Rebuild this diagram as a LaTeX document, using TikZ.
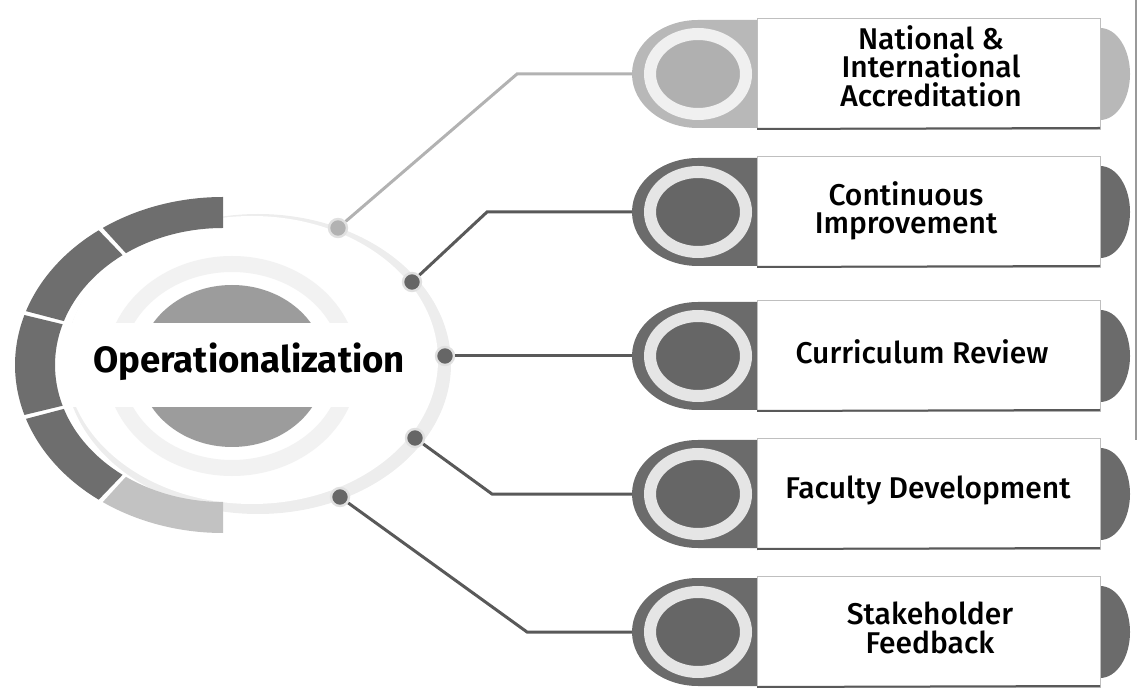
\documentclass[tikz,border=0pt]{standalone}
\usepackage{fontspec}
\setmainfont{Fira Sans}
\newfontfamily\labelfont{Fira Sans Medium}
\usetikzlibrary{calc,shapes.geometric}
\def\ringseg[#1](#2:#3){\fill[#1] ($(223,365)+(#2:208 and 168)$) arc[start angle=#2, end angle=#3, x radius=208, y radius=168] -- ($(223,365)+(#3:168 and 137)$) arc[start angle=#3, end angle=#2, x radius=168, y radius=137] -- cycle;}
\def\pillbody[#1](#2){%
	\fill[#1] (757,#2-54) -- (698,#2-54) arc[start angle=270, end angle=90, x radius=66, y radius=54] -- (757,#2+54) -- cycle;
	\fill[#1] (1100,#2-46) arc[start angle=270, end angle=450, x radius=30, y radius=46] -- cycle;
	\draw[black!25, fill=white] (757,#2-56) rectangle (1100,#2+55);
	\draw[black!65, line width=1pt] (757,#2+55) -- (1100,#2+54);}

\begin{document}
\begin{tikzpicture}[x=0.5pt, y=-0.5pt,
		dotnode/.style={circle, minimum size=9pt, inner sep=0pt, fill=black!60, draw=black!12, line width=1.2pt},
		ringnode/.style={ellipse, minimum width=48pt, minimum height=40pt, inner sep=0pt, fill=black!60, draw=black!10, line width=6pt},
		conn/.style={line width=1.5pt, black!65},
		lbl/.style={align=center, font=\labelfont\fontsize{15}{14.2}\selectfont}]
		%%%%% START %%%%%
		\useasboundingbox (0,0) rectangle (1143,688);
		
		\fill[black!7] (258,364) ellipse [x radius=193, y radius=150];
		\fill[white] (252,360) ellipse [x radius=186, y radius=144];
		\draw[black!5, line width=8pt] (232,366) ellipse [x radius=118, y radius=102];
		\fill[black!39] (232,366) ellipse [x radius=93, y radius=81];
		\fill[white] (60,323) rectangle (425,407);
		\node[font=\fontsize{18.3}{20}\selectfont\bfseries] (core) at (249,362) {Operationalization};
		
		\ringseg[black!57](270:234.7)
		\ringseg[black!57](233.3:198.7)
		\ringseg[black!57](197.3:162.7)
		\ringseg[black!57](161.3:126.7)
		\ringseg[black!24](125.3:90)
		
		\coordinate (b1) at (517,74);
		\coordinate (b2) at (487,212);
		\coordinate (b4) at (492,494);
		\coordinate (b5) at (527,632);
		\coordinate (p1) at (632,74);
		\coordinate (p2) at (632,212);
		\coordinate (p3) at (632,356);
		\coordinate (p4) at (632,494);
		\coordinate (p5) at (632,632);
		
		\node[dotnode, fill=black!30] (d1) at (338,228) {};
		\node[dotnode] (d2) at (412,282) {};
		\node[dotnode] (d3) at (445,356) {};
		\node[dotnode] (d4) at (415,438) {};
		\node[dotnode] (d5) at (340,497) {};
		
		\draw[conn, black!30] (d1) -- (b1) -- (p1);
		\draw[conn] (d2) -- (b2) -- (p2);
		\draw[conn] (d3) -- (p3);
		\draw[conn] (d4) -- (b4) -- (p4);
		\draw[conn] (d5) -- (b5) -- (p5);
		
		\pillbody[black!28](74)
		\node[ringnode, fill=black!31, draw=black!6] (e1) at (698,74) {};
		\node[lbl] (t1) at (931,66) {National \&\\International\\Accreditation};
		
		\pillbody[black!58](212)
		\node[ringnode] (e2) at (698,212) {};
		\node[lbl] (t2) at (906,211) {Continuous\\Improvement};
		
		\pillbody[black!58](356)
		\node[ringnode] (e3) at (698,356) {};
		\node[lbl] (t3) at (922,352) {Curriculum Review};
		
		\pillbody[black!58](494)
		\node[ringnode] (e4) at (698,494) {};
		\node[lbl] (t4) at (928,490) {Faculty Development};
		
		\pillbody[black!58](632)
		\node[ringnode] (e5) at (698,632) {};
		\node[lbl] (t5) at (930,628) {Stakeholder\\Feedback};
		
		\draw[black!40, line width=0.6pt] (1136,0) -- (1136,440);
		%%%%% END %%%%%
\end{tikzpicture}
\end{document}
